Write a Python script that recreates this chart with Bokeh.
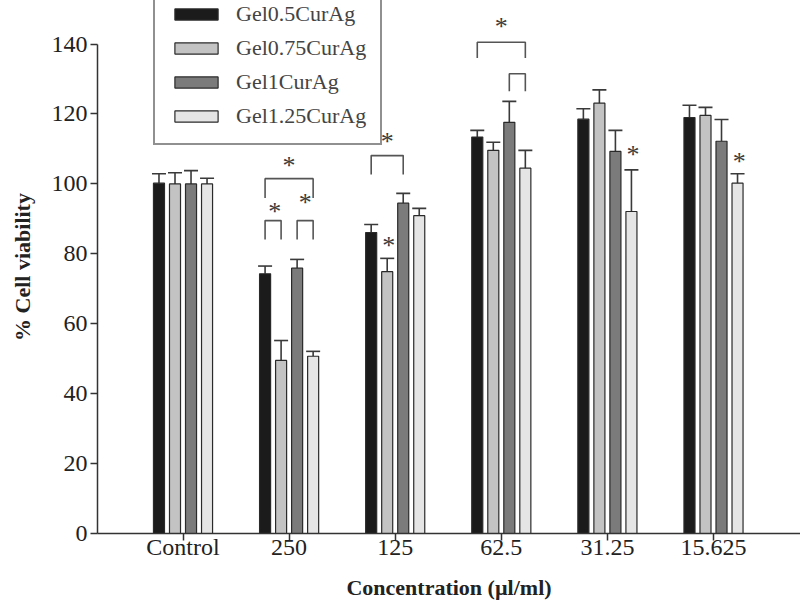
from bokeh.plotting import figure
from bokeh.models import Legend, LegendItem, FixedTicker, Range1d
from bokeh.core.properties import value
from bokeh.embed import file_html
from bokeh.resources import INLINE

categories = ["Control", "250", "125", "62.5", "31.25", "15.625"]
series = ["Gel0.5CurAg", "Gel0.75CurAg", "Gel1CurAg", "Gel1.25CurAg"]
gel05 = [100.2, 74.3, 86.1, 113.4, 118.5, 119.0]
gel05_err = [2.7, 2.2, 2.3, 1.9, 3.0, 3.5]
gel075 = [100.0, 49.5, 74.9, 109.6, 123.1, 119.6]
gel075_err = [3.2, 5.7, 3.8, 2.3, 3.8, 2.3]
gel1 = [100.0, 75.9, 94.5, 117.6, 109.3, 112.2]
gel1_err = [3.8, 2.5, 2.8, 6.0, 6.0, 6.2]
gel125 = [100.0, 50.7, 90.9, 104.5, 92.1, 100.2]
gel125_err = [1.6, 1.4, 2.1, 5.1, 11.9, 2.7]
y_ticks = [0, 20, 40, 60, 80, 100, 120, 140]

# significance annotations: (group, series_a, series_b, top, leg_bottom)
brackets = [
    (1, 0, 3, 101.5, 96.0),
    (1, 0, 1, 89.5, 84.1),
    (1, 2, 3, 89.5, 84.1),
    (2, 0, 2, 108.1, 102.7),
    (3, 0, 3, 140.5, 136.0),
    (3, 2, 3, 131.5, 126.5),
]
# stars: (group, series position, value)
stars = [
    (1, 1.5, 105.7),
    (1, 0.6, 92.7),
    (1, 2.5, 95.3),
    (2, 1.0, 112.7),
    (2, 1.1, 83.0),
    (3, 1.5, 145.5),
    (4, 3.1, 109.1),
    (5, 3.1, 107.0),
]

values = [gel05, gel075, gel1, gel125]
errors = [gel05_err, gel075_err, gel1_err, gel125_err]
fills = ["#1b1b1b", "#c3c3c3", "#7b7b7b", "#e5e5e5"]
pitch = 0.151
bar_w = 0.104
cap = 0.066
FONT = "Liberation Serif"

p = figure(width=800, height=604, x_range=Range1d(0.194, 6.82), y_range=Range1d(0, 152.46),
           output_backend="svg", toolbar_location=None,
           min_border_left=97, min_border_right=0, min_border_top=0, min_border_bottom=71)
p.outline_line_color = None
p.xgrid.visible = False
p.ygrid.visible = False


def xpos(g, s):
    return (g + 1) + (s - 1.5) * pitch


items = []
for s, (vals, errs) in enumerate(zip(values, errors)):
    xs = [xpos(g, s) for g in range(len(categories))]
    tops = [v + e for v, e in zip(vals, errs)]
    p.segment(x0=xs, y0=vals, x1=xs, y1=tops, line_color="#3a3a3a", line_width=1.6)
    p.segment(x0=[x - cap for x in xs], y0=tops, x1=[x + cap for x in xs], y1=tops,
              line_color="#3a3a3a", line_width=1.6)
    r = p.vbar(x=xs, top=vals, bottom=0, width=bar_w, fill_color=fills[s],
               line_color="#2a2a2a", line_width=1.2)
    items.append(LegendItem(label=series[s], renderers=[r]))

bx, by = [], []
for g, a, b, top, bot in brackets:
    x1, x2 = xpos(g, a), xpos(g, b)
    bx.append([x1, x1, x2, x2])
    by.append([bot, top, top, bot])
p.multi_line(xs=bx, ys=by, line_color="#555555", line_width=1.6)

p.text(x=[xpos(g, s) for g, s, v in stars], y=[v for g, s, v in stars],
       text=["*"] * len(stars), text_font=value(FONT), text_font_size="26px",
       text_align="center", text_baseline="middle", text_color="#3a3a3a", y_offset=2)

legend = Legend(items=items, location=(56, 388), orientation="vertical")
legend.label_text_font = FONT
legend.label_text_font_size = "22px"
legend.glyph_width = 54
legend.glyph_height = 14
legend.label_height = 23
legend.spacing = 8
legend.padding = 14
legend.margin = 0
legend.label_standoff = 13
legend.border_line_color = "#222222"
legend.border_line_width = 2
p.add_layout(legend)

p.yaxis.ticker = FixedTicker(ticks=y_ticks)
p.yaxis.bounds = (0, 140)
p.xaxis.ticker = FixedTicker(ticks=[i + 1 for i in range(len(categories))])
p.xaxis.major_label_overrides = {i + 1: c for i, c in enumerate(categories)}
for ax in (p.xaxis, p.yaxis):
    ax.axis_line_color = "#333333"
    ax.axis_line_width = 1.5
    ax.major_tick_line_color = "#333333"
    ax.major_tick_line_width = 1.5
    ax.major_tick_in = 0
    ax.major_tick_out = 7
    ax.minor_tick_line_color = None
    ax.major_label_text_font = FONT
    ax.major_label_text_font_size = "24px"
    ax.major_label_text_color = "#222222"
    ax.axis_label_text_font = FONT
    ax.axis_label_text_font_size = "22px"
    ax.axis_label_text_font_style = "bold"
    ax.axis_label_text_color = "#222222"
p.xaxis.axis_label = "Concentration (µl/ml)"
p.yaxis.axis_label = "% Cell viability"
p.xaxis.major_label_standoff = -7
p.xaxis.axis_label_standoff = 12
p.yaxis.major_label_standoff = 3
p.yaxis.axis_label_standoff = 14

open("out.html", "w").write(file_html(p, INLINE))
